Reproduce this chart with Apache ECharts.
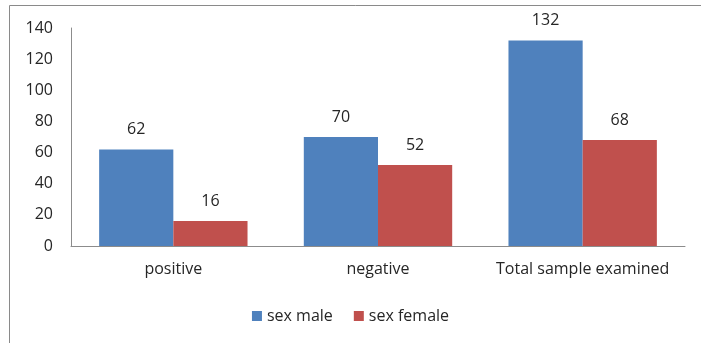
<!DOCTYPE html>
<html>
<head>
<meta charset="utf-8">
<script src="https://cdn.jsdelivr.net/npm/echarts@6/dist/echarts.min.js"></script>
<style>
  html, body { margin: 0; padding: 0; background: #fff; }
  #chart { width: 701px; height: 343px; }
</style>
</head>
<body>
<div id="chart"></div>
<script>
  var categories = ['positive', 'negative', 'Total sample examined'];
  var maleValues = [62, 70, 132];
  var femaleValues = [16, 52, 68];
  var yTicks = [0, 140, 20];

  var font = '"Open Sans", sans-serif';
  var textColor = '#262626';
  var chart = echarts.init(document.getElementById('chart'));

  var labelStyle = {
    show: true,
    position: 'top',
    distance: 12,
    color: textColor,
    fontSize: 16,
    fontFamily: font
  };

  chart.setOption({
    animation: false,
    graphic: [{
      type: 'rect',
      shape: { x: 9.5, y: 5.5, width: 720, height: 360 },
      style: { fill: 'none', stroke: '#8a8a8a', lineWidth: 1 }
    }],
    grid: { left: 71, right: 16, top: 28, bottom: 97 },
    legend: {
      bottom: 14,
      left: 'center',
      itemWidth: 10,
      itemHeight: 10,
      itemGap: 21,
      icon: 'rect',
      textStyle: { color: textColor, fontSize: 16, fontFamily: font },
      data: ['sex male', 'sex female']
    },
    xAxis: {
      type: 'category',
      data: categories,
      axisTick: { show: false },
      axisLine: { lineStyle: { color: '#8c8c8c' } },
      axisLabel: { interval: 0, color: textColor, fontSize: 16, fontFamily: font, margin: 15 }
    },
    yAxis: {
      type: 'value',
      min: yTicks[0],
      max: yTicks[1],
      interval: yTicks[2],
      splitLine: { show: false },
      axisTick: { show: false },
      axisLine: { show: true, lineStyle: { color: '#8c8c8c' } },
      axisLabel: { color: textColor, fontSize: 16, fontFamily: font, margin: 18 }
    },
    series: [
      {
        name: 'sex male',
        type: 'bar',
        data: maleValues,
        barGap: '0%',
        barCategoryGap: '27.5%',
        itemStyle: { color: '#4F81BD' },
        label: labelStyle
      },
      {
        name: 'sex female',
        type: 'bar',
        data: femaleValues,
        barGap: '0%',
        barCategoryGap: '27.5%',
        itemStyle: { color: '#C0504D' },
        label: labelStyle
      }
    ]
  });
</script>
</body>
</html>
